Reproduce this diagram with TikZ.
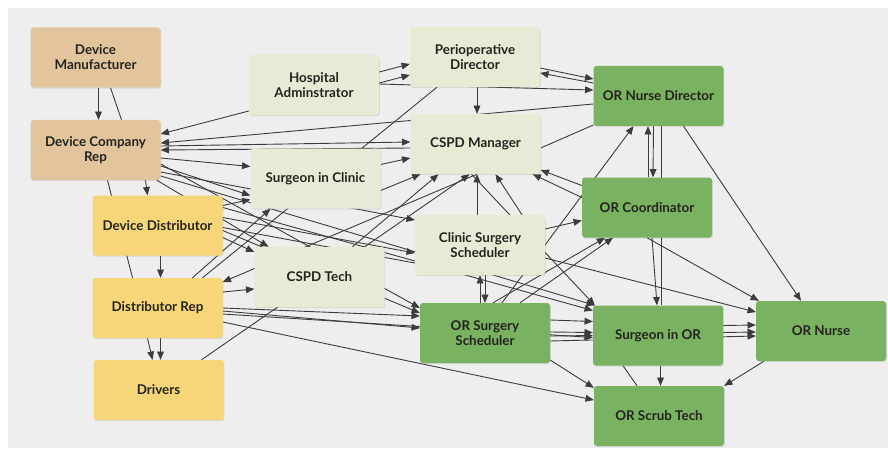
\documentclass[tikz,border=0pt]{standalone}
\usepackage{fontspec}
\setmainfont{Lato}
\usepackage{pgf,tikz}
\usetikzlibrary{arrows,shadows}
\definecolor{panel}{RGB}{238,238,238}
\definecolor{mfrfill}{RGB}{226,197,156}
\definecolor{distfill}{RGB}{247,214,122}
\definecolor{hospfill}{RGB}{230,235,213}
\definecolor{orfill}{RGB}{121,178,96}
\definecolor{linkcol}{RGB}{60,60,60}
\definecolor{txt}{RGB}{36,36,30}
\pgfdeclarelayer{back}
\pgfsetlayers{back,main}

\begin{document}
\begin{tikzpicture}[line cap=round,line join=round,>=triangle 45,x=1pt,y=1pt,
  box/.style={rectangle,rounded corners=3pt,minimum width=130pt,minimum height=60pt,inner sep=2pt,
    align=center,text=txt,font=\fontsize{13.4}{15}\selectfont\bfseries,
    drop shadow={shadow xshift=0.8pt,shadow yshift=-1.2pt,opacity=0.2}},
  mfr/.style={box,fill=mfrfill},
  dist/.style={box,fill=distfill},
  hosp/.style={box,fill=hospfill},
  orbox/.style={box,fill=orfill},
  link/.style={color=linkcol,line width=0.9pt}]
\useasboundingbox (0,0) rectangle (888,448);

% device side
\node[mfr] (dm) at (95.5,390.5) {Device\\Manufacturer};
\node[mfr] (dcr) at (95.5,298) {Device Company\\Rep};
\node[dist] (dd) at (157.5,222.5) {Device Distributor};
\node[dist] (dr) at (157.5,140) {Distributor Rep};
\node[dist] (drv) at (158.5,58) {Drivers};
% hospital staff
\node[hosp] (ha) at (314,363) {Hospital\\Adminstrator};
\node[hosp] (pd) at (475,391) {Perioperative\\Director};
\node[hosp] (cm) at (475.5,304) {CSPD Manager};
\node[hosp] (sc) at (315.5,269.5) {Surgeon in Clinic};
\node[hosp] (css) at (480,203) {Clinic Surgery\\Scheduler};
\node[hosp] (ct) at (319.5,171) {CSPD Tech};
% operating room
\node[orbox] (oss) at (485,115) {OR Surgery\\Scheduler};
\node[orbox] (ond) at (658.5,352) {OR Nurse Director};
\node[orbox] (oc) at (647,240.5) {OR Coordinator};
\node[orbox] (sor) at (658,112.5) {Surgeon in OR};
\node[orbox] (on) at (821,117) {OR Nurse};
\node[orbox] (ost) at (659,32) {OR Scrub Tech};

\begin{pgfonlayer}{back}
\fill[white] (0,0) rectangle (888,448);
\fill[panel] (8,0) rectangle (888,440);

% left column
\draw[link,->] ([xshift=3]dm.south) -- ([xshift=3]dcr.north);
\draw[link] ([xshift=15]dm.south) -- ([xshift=26]dcr.north);
\draw[link,->] ([xshift=50]dcr.south) -- ([xshift=-10]dd.north);
\draw[link] ([xshift=12]dcr.south) -- ([xshift=-25]dr.north);
\draw[link,->] ([xshift=3]dd.south) -- ([xshift=3]dr.north);
\draw[link,->] ([xshift=3]dr.south) -- ([xshift=2]drv.north);
\draw[link,->] ([xshift=-10]dr.south) -- ([xshift=-6]drv.north);

% fan out of the company rep
\draw[link,->] ([yshift=-26]ha.west) -- ([yshift=16]dcr.east);
\draw[link,->] ([yshift=-8]ond.west) -- ([yshift=7]dcr.east);
\draw[link,->] ([yshift=4]dcr.east) -- ([yshift=2]cm.west);
\draw[link,->] ([yshift=-4]cm.west) -- ([yshift=0]dcr.east);
\draw[link,->] ([yshift=-8]dcr.east) -- ([yshift=12]sc.west);
\draw[link,->] ([yshift=-16]dcr.east) -- ([yshift=-17]sc.west);
\draw[link,->] ([xshift=-4]dcr.south east) -- ([xshift=-51]ct.north);
\draw[link,->] ([yshift=-22]dcr.east) -- ([yshift=25]css.west);
\draw[link,->] ([yshift=-14]dcr.east) -- ([yshift=25]oss.west);
\draw[link,->] ([yshift=-26]dcr.east) -- ([xshift=2]sor.north west);

% distributor links
\draw[link,->] ([yshift=20]dd.east) -- ([yshift=-21]sc.west);
\draw[link,->] ([yshift=18]dd.east) -- ([yshift=25]sor.west);
\draw[link,->] ([yshift=8]dd.east) -- ([yshift=-8]css.west);
\draw[link] ([yshift=-2]dd.east) -- ([yshift=-18]css.west);
\draw[link,->] ([yshift=-12]dd.east) -- ([yshift=25]ct.west);
\draw[link,->] ([yshift=-5]dd.east) -- ([yshift=20]oss.west);
\draw[link,->] ([xshift=1.5]cm.south) -- ([yshift=26]dr.east);
\draw[link,->] ([yshift=16]dr.east) -- ([yshift=-12]ct.west);
\draw[link] ([xshift=45]dr.north) -- ([xshift=-38]pd.south);
\draw[link,->] ([xshift=35]dr.north) -- ([xshift=-45]sc.south);
\draw[link,->] ([xshift=43]drv.north) -- ([xshift=-6]cm.south);
\draw[link,->] ([yshift=0]dr.east) -- ([yshift=17]oss.west);
\draw[link,->] ([yshift=-3]dr.east) -- ([yshift=5]oss.west);
\draw[link,->] ([yshift=-6]dr.east) -- ([yshift=-2]sor.west);
\draw[link,->] ([yshift=-14]dr.east) -- ([yshift=16]ost.west);

% hospital side
\draw[link,->] ([xshift=33]ct.north) -- ([xshift=-37]cm.south);
\draw[link,->] ([yshift=14]sc.east) -- ([yshift=-14]cm.west);
\draw[link,->] ([yshift=-12]sc.east) -- ([xshift=-55]cm.south);
\draw[link,->] ([yshift=13]ha.east) -- ([yshift=-7]pd.west);
\draw[link,->] ([yshift=2]ha.east) -- ([yshift=-18]pd.west);
\draw[link,->] ([yshift=1]ha.east) -- ([yshift=6]ond.west);
\draw[link,->] ([yshift=-11]pd.east) -- ([yshift=17]ond.west);
\draw[link,->] ([yshift=13]ond.west) -- ([yshift=-16]pd.east);
\draw[link,->] ([xshift=2]pd.south) -- ([xshift=1.5]cm.north);
\draw[link] ([yshift=-4]cm.east) -- ([yshift=-29]ond.west);
\draw[link,->] ([yshift=22]oc.west) -- ([yshift=-26]cm.east);
\draw[link,->] ([yshift=10]oc.west) -- ([xshift=-8]cm.south east);
\draw[link,->] ([xshift=-3]css.north) -- ([xshift=1.5]cm.south);
\draw[link,->] ([xshift=42]css.north) -- ([xshift=20]cm.south);
\draw[link,->] ([yshift=16]css.east) -- ([yshift=-13]oc.west);
\draw[link,->] ([xshift=5]css.south) -- ([xshift=0]oss.north);
\draw[link,->] ([xshift=-5]oss.north) -- ([xshift=0]css.south);
\draw[link,->] ([yshift=-13]css.east) -- ([yshift=19]on.west);
\draw[link,->] ([xshift=-4]cm.south) -- ([xshift=2]sor.north west);

% operating room
\draw[link,->] ([xshift=17]oss.north) -- ([xshift=-25]ond.south);
\draw[link,->] ([xshift=8]oss.north) -- ([xshift=-42]oc.south);
\draw[link,->] ([xshift=35]oss.north) -- ([xshift=-34]oc.south);
\draw[link,->] ([xshift=1]oc.north) -- ([xshift=-10.5]ond.south);
\draw[link,->] ([xshift=-5]ond.south) -- ([xshift=6]oc.north);
\draw[link] ([xshift=2.5]ond.south) -- ([xshift=3]sor.north);
\draw[link,->] ([xshift=5]oc.south) -- ([xshift=-1]sor.north);
\draw[link,->] ([xshift=0]oc.south) -- ([xshift=3]on.north west);
\draw[link,->] ([xshift=25]ond.south) -- ([xshift=-20]on.north);
\draw[link,->] ([yshift=13]oss.east) -- ([yshift=14]sor.west);
\draw[link,->] ([yshift=1]oss.east) -- ([yshift=3]sor.west);
\draw[link,->] ([yshift=-3]oss.east) -- ([yshift=0]sor.west);
\draw[link,->] ([yshift=10]sor.east) -- ([yshift=6]on.west);
\draw[link,->] ([yshift=3]sor.east) -- ([yshift=-1]on.west);
\draw[link,->] ([yshift=-8]oss.east) -- ([yshift=-5]on.west);
\draw[link,->] ([xshift=2.5]sor.south) -- ([xshift=1.5]ost.north);
\draw[link] ([xshift=-35]sor.south) -- ([xshift=-22]ost.north);
\draw[link,->] ([xshift=-57]on.south) -- (ost.north east);
\draw[link,->] ([yshift=-27]oss.east) -- ([yshift=-2]ost.north west);
\end{pgfonlayer}

\end{tikzpicture}
\end{document}
